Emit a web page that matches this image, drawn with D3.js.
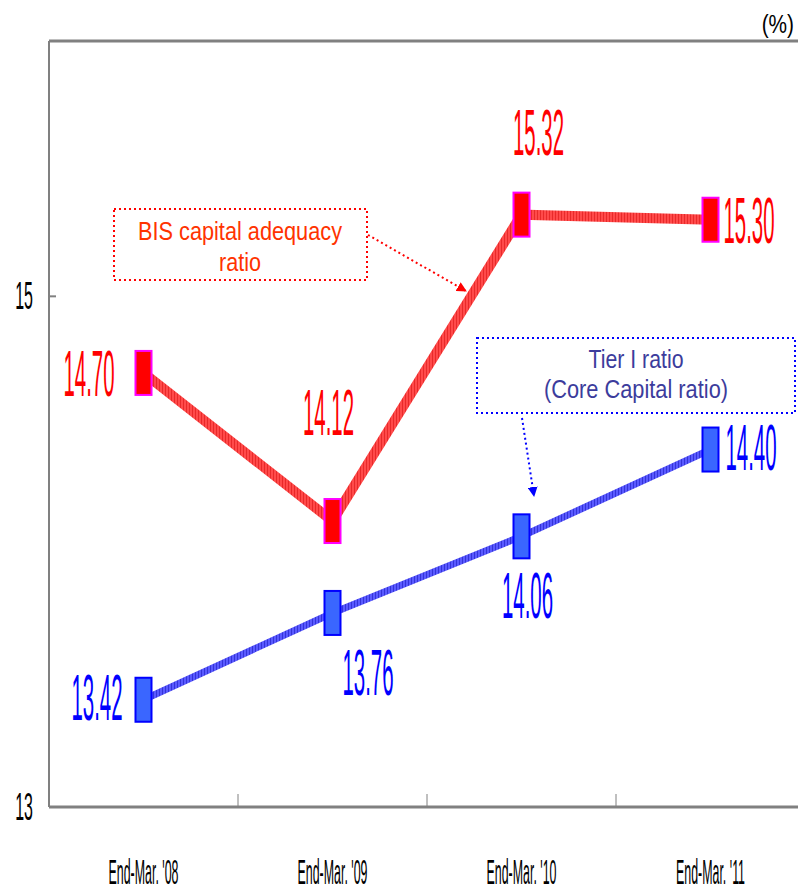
<!DOCTYPE html>
<html>
<head>
<meta charset="utf-8">
<script src="https://cdn.jsdelivr.net/npm/d3@7"></script>
<style>
  body { margin: 0; background: #fff; }
</style>
</head>
<body>
<div id="chart"></div>
<script>
// data
var categories = ["End-Mar. '08", "End-Mar. '09", "End-Mar. '10", "End-Mar. '11"];
var bisRatio = [14.70, 14.12, 15.32, 15.30];
var tier1Ratio = [13.42, 13.76, 14.06, 14.40];
var yTicks = [13, 15];

// label placement (dx, dy from the point, anchor)
var bisLabelPos = [[-29, 23, "end"], [-4, -86, "middle"], [17, -60, "middle"], [13, 23, "start"]];
var tierLabelPos = [[-21, 20, "end"], [10, 82, "start"], [6, 82, "middle"], [15, 20, "start"]];

var width = 798, height = 892;
var plotLeft = 49, plotRight = 805, plotTop = 41, plotBottom = 807;

var svg = d3.select("#chart").append("svg")
    .attr("width", width)
    .attr("height", height);

var x = d3.scaleBand().domain(categories).range([plotLeft, plotRight]);
var y = d3.scaleLinear().domain([13, 16]).range([plotBottom, plotTop]);

var plain = "'Liberation Sans', Arial, sans-serif";

// stripe patterns for the lines
var defs = svg.append("defs");
function stripes(id, c1, c2) {
    var p = defs.append("pattern")
        .attr("id", id)
        .attr("patternUnits", "userSpaceOnUse")
        .attr("width", 3).attr("height", 3);
    p.append("rect").attr("width", 3).attr("height", 3).attr("fill", c1);
    p.append("rect").attr("width", 1).attr("height", 3).attr("fill", c2);
}
stripes("redStripe", "#ff4a4a", "#e82a2a");
stripes("blueStripe", "#5a5aff", "#3434d8");

function arrowHead(id, color) {
    defs.append("marker")
        .attr("id", id)
        .attr("viewBox", "0 0 10 10")
        .attr("refX", 9).attr("refY", 5)
        .attr("markerWidth", 5).attr("markerHeight", 5)
        .attr("markerUnits", "strokeWidth")
        .attr("orient", "auto")
        .append("path")
        .attr("d", "M0,0 L10,5 L0,10 z")
        .attr("fill", color);
}
arrowHead("redArrow", "#ff0000");
arrowHead("blueArrow", "#0000ff");

// frame
svg.append("line")
    .attr("x1", plotLeft).attr("x2", width).attr("y1", plotTop).attr("y2", plotTop)
    .style("stroke", "#808080").style("stroke-width", 3);
svg.append("line")
    .attr("x1", plotLeft).attr("x2", plotLeft).attr("y1", plotTop).attr("y2", plotBottom)
    .style("stroke", "#808080").style("stroke-width", 2);
svg.append("line")
    .attr("x1", plotLeft).attr("x2", width).attr("y1", plotBottom).attr("y2", plotBottom)
    .style("stroke", "#808080").style("stroke-width", 3);

// x ticks between categories
svg.selectAll("line.xtick").data(categories.slice(1)).enter().append("line")
    .attr("class", "xtick")
    .attr("x1", function(d) { return x(d); })
    .attr("x2", function(d) { return x(d); })
    .attr("y1", plotBottom).attr("y2", plotBottom - 13)
    .style("stroke", "#808080").style("stroke-width", 1);

// y ticks
svg.selectAll("line.ytick").data(yTicks).enter().append("line")
    .attr("class", "ytick")
    .attr("x1", plotLeft).attr("x2", plotLeft + 7)
    .attr("y1", function(d) { return y(d); })
    .attr("y2", function(d) { return y(d); })
    .style("stroke", "#808080").style("stroke-width", 2);

svg.selectAll("text.ylab").data(yTicks).enter().append("text")
    .attr("class", "ylab")
    .attr("transform", function(d) { return "translate(24," + (y(d) + 13) + ") scale(0.42,1)"; })
    .attr("text-anchor", "middle")
    .text(function(d) { return d; })
    .style("font-family", plain)
    .style("font-size", "38px")
    .style("fill", "#000");

// x labels
svg.selectAll("text.xlab").data(categories).enter().append("text")
    .attr("class", "xlab")
    .attr("transform", function(d) { return "translate(" + (x(d) + x.bandwidth() / 2) + ",884) scale(0.345,1)"; })
    .attr("text-anchor", "middle")
    .text(function(d) { return d; })
    .style("font-family", plain)
    .style("font-size", "36px")
    .style("fill", "#000");

// unit
svg.append("text")
    .attr("transform", "translate(794,33) scale(0.8,1)")
    .attr("text-anchor", "end")
    .text("(%)")
    .style("font-family", plain)
    .style("font-size", "26px")
    .style("fill", "#000");

var cx = function(d, i) { return x(categories[i]) + x.bandwidth() / 2; };

var line = d3.line()
    .x(function(d, i) { return cx(d, i); })
    .y(function(d) { return y(d); });

// lines
svg.append("path").datum(tier1Ratio)
    .attr("d", line)
    .style("fill", "none")
    .style("stroke", "url(#blueStripe)")
    .style("stroke-width", 7);

svg.append("path").datum(bisRatio)
    .attr("d", line)
    .style("fill", "none")
    .style("stroke", "url(#redStripe)")
    .style("stroke-width", 10);

// markers
svg.selectAll("rect.bis").data(bisRatio).enter().append("rect")
    .attr("class", "bis")
    .attr("x", function(d, i) { return cx(d, i) - 8; })
    .attr("y", function(d) { return y(d) - 22; })
    .attr("width", 16).attr("height", 44)
    .style("fill", "#ff0000")
    .style("stroke", "#ff00ff")
    .style("stroke-width", 2);

svg.selectAll("rect.tier").data(tier1Ratio).enter().append("rect")
    .attr("class", "tier")
    .attr("x", function(d, i) { return cx(d, i) - 8; })
    .attr("y", function(d) { return y(d) - 22; })
    .attr("width", 16).attr("height", 44)
    .style("fill", "#3a66ff")
    .style("stroke", "#0000ff")
    .style("stroke-width", 2);

// value labels
function valueLabels(cls, data, pos, color) {
    svg.selectAll("text." + cls).data(data).enter().append("text")
        .attr("class", cls)
        .attr("transform", function(d, i) {
            return "translate(" + (cx(d, i) + pos[i][0]) + "," + (y(d) + pos[i][1]) + ") scale(0.314,1)";
        })
        .attr("text-anchor", function(d, i) { return pos[i][2]; })
        .text(function(d) { return d.toFixed(2); })
        .style("font-family", plain)
        .style("font-size", "65px")
        .style("fill", color);
}
valueLabels("bisLab", bisRatio, bisLabelPos, "#ff0000");
valueLabels("tierLab", tier1Ratio, tierLabelPos, "#0000ff");

// callout text helper
function calloutText(cx0, cy0, txt, len, color) {
    svg.append("text")
        .attr("x", cx0 - len / 2).attr("y", cy0)
        .attr("textLength", len)
        .attr("lengthAdjust", "spacingAndGlyphs")
        .text(txt)
        .style("font-family", plain)
        .style("font-size", "25px")
        .style("fill", color);
}

// callout: BIS
svg.append("rect")
    .attr("x", 114).attr("y", 209)
    .attr("width", 253).attr("height", 71)
    .style("fill", "none")
    .style("stroke", "#ff0000")
    .style("stroke-width", 2)
    .style("stroke-dasharray", "2,3");
calloutText(240, 240, "BIS capital adequacy", 204, "#ff3300");
calloutText(240, 271, "ratio", 42, "#ff3300");
svg.append("line")
    .attr("x1", 368).attr("y1", 235)
    .attr("x2", 466).attr("y2", 291)
    .style("stroke", "#ff0000")
    .style("stroke-width", 2)
    .style("stroke-dasharray", "2,3")
    .attr("marker-end", "url(#redArrow)");

// callout: Tier I
svg.append("rect")
    .attr("x", 477).attr("y", 338)
    .attr("width", 318).attr("height", 75)
    .style("fill", "none")
    .style("stroke", "#0000ff")
    .style("stroke-width", 2)
    .style("stroke-dasharray", "2,3");
calloutText(636, 368, "Tier I ratio", 95, "#3c3c9c");
calloutText(636, 398, "(Core Capital ratio)", 184, "#3c3c9c");
svg.append("line")
    .attr("x1", 522).attr("y1", 418)
    .attr("x2", 534).attr("y2", 496)
    .style("stroke", "#0000ff")
    .style("stroke-width", 2)
    .style("stroke-dasharray", "2,3")
    .attr("marker-end", "url(#blueArrow)");
</script>
</body>
</html>
